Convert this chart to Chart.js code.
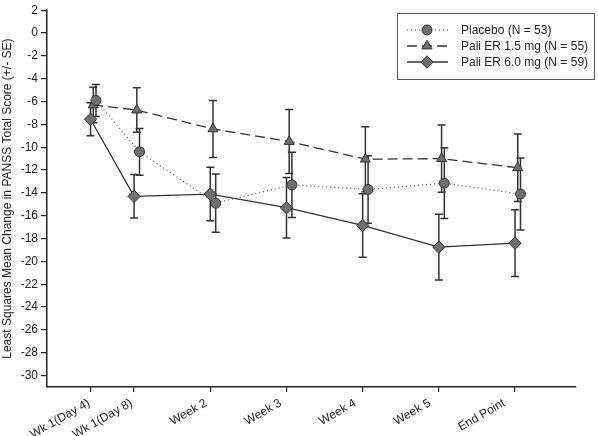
<!DOCTYPE html>
<html><head><meta charset="utf-8">
<script src="https://cdn.jsdelivr.net/npm/chart.js@4/dist/chart.umd.min.js"></script>
<style>html,body{margin:0;padding:0;background:#fff;}canvas{display:block;}</style>
</head><body>
<canvas id="c" width="598" height="436"></canvas>
<script>
// ---- data ----
const categories = ['Wk 1(Day 4)', 'Wk 1(Day 8)', 'Week 2', 'Week 3', 'Week 4', 'Week 5', 'End Point'];
const studyDays = [4, 8, 15, 22, 29, 36, 43];
const seriesNames = ['Placebo (N = 53)', 'Pali ER 1.5 mg (N = 55)', 'Pali ER 6.0 mg (N = 59)'];
const placeboMean = [-5.9, -10.4, -14.9, -13.3, -13.7, -13.15, -14.1];
const placeboSE   = [1.4, 2.05, 2.55, 2.85, 2.95, 3.1, 3.15];
const pali15Mean  = [-6.3, -6.75, -8.4, -9.5, -11.05, -11.0, -11.8];
const pali15SE    = [1.55, 1.95, 2.5, 2.8, 2.85, 2.95, 2.95];
const pali60Mean  = [-7.55, -14.3, -14.1, -15.3, -16.85, -18.75, -18.4];
const pali60SE    = [1.45, 1.9, 2.35, 2.65, 2.78, 2.87, 2.93];
const yTicks = [2, 0, -2, -4, -6, -8, -10, -12, -14, -16, -18, -20, -22, -24, -26, -28, -30];
const yTitle = 'Least Squares Mean Change in PANSS Total Score (+/- SE)';

// ---- styling ----
const FONT = "'Liberation Sans', Arial, sans-serif";
const INK = '#333333';
const FILL = '#6f6f6f';
const dodge = [0.5, 0.25, 0];   // horizontal offsets (days) used in the original to separate groups

function pts(means, k) {
  return means.map((v, i) => ({ x: studyDays[i] + dodge[k], y: v }));
}

const seSets = [placeboSE, pali15SE, pali60SE];

const datasets = [
  { label: seriesNames[0], data: pts(placeboMean, 0), borderColor: '#555', borderWidth: 1.2,
    borderDash: [1, 3], pointStyle: 'circle', pointRadius: 5, pointBackgroundColor: FILL,
    pointBorderColor: INK, pointBorderWidth: 1, tension: 0, order: 1 },
  { label: seriesNames[1], data: pts(pali15Mean, 1), borderColor: INK, borderWidth: 1.3,
    borderDash: [10, 5], pointStyle: 'triangle', pointRadius: 5.8, pointBackgroundColor: FILL,
    pointBorderColor: INK, pointBorderWidth: 1, tension: 0, order: 2 },
  { label: seriesNames[2], data: pts(pali60Mean, 2), borderColor: INK, borderWidth: 1.3,
    borderDash: [], pointStyle: 'rectRot', pointRadius: 6.2, pointBackgroundColor: FILL,
    pointBorderColor: INK, pointBorderWidth: 1, tension: 0, order: 3 }
];

const errorBars = {
  id: 'errorBars',
  beforeDatasetsDraw(chart) {
    const { ctx, scales: { x, y } } = chart;
    ctx.save();
    ctx.strokeStyle = INK;
    ctx.lineWidth = 1.5;
    ctx.setLineDash([]);
    chart.data.datasets.forEach((ds, k) => {
      ds.data.forEach((p, i) => {
        const px = x.getPixelForValue(p.x);
        const top = y.getPixelForValue(p.y + seSets[k][i]);
        const bot = y.getPixelForValue(p.y - seSets[k][i]);
        ctx.beginPath();
        ctx.moveTo(px, top); ctx.lineTo(px, bot);
        ctx.moveTo(px - 4, top); ctx.lineTo(px + 4, top);
        ctx.moveTo(px - 4, bot); ctx.lineTo(px + 4, bot);
        ctx.stroke();
      });
    });
    ctx.restore();
  }
};

const boxLegend = {
  id: 'boxLegend',
  afterDraw(chart) {
    const { ctx } = chart;
    const left = chart.width - 201, top = 13, w = 197, h = 66;
    ctx.save();
    ctx.strokeStyle = '#555';
    ctx.lineWidth = 1;
    ctx.strokeRect(left + 0.5, top + 0.5, w, h);
    chart.data.datasets.forEach((ds, k) => {
      const cy = top + 17 + k * 16;
      ctx.strokeStyle = ds.borderColor;
      ctx.lineWidth = ds.borderWidth;
      ctx.setLineDash(ds.borderDash);
      ctx.beginPath();
      ctx.moveTo(left + 10, cy); ctx.lineTo(left + 51, cy);
      ctx.stroke();
      ctx.setLineDash([]);
      ctx.fillStyle = FILL;
      ctx.strokeStyle = INK;
      ctx.lineWidth = 1;
      Chart.helpers.drawPoint(ctx, { pointStyle: ds.pointStyle, radius: ds.pointRadius, borderWidth: 1 }, left + 30, cy);
      ctx.fillStyle = '#222';
      ctx.font = '12px ' + FONT;
      ctx.textAlign = 'left';
      ctx.textBaseline = 'middle';
      ctx.fillText(ds.label, left + 64, cy + 1);
    });
    ctx.restore();
  }
};

Chart.defaults.font.family = FONT;
Chart.defaults.font.size = 12;
Chart.defaults.color = '#222';

new Chart(document.getElementById('c'), {
  type: 'line',
  data: { datasets },
  plugins: [errorBars, boxLegend],
  options: {
    responsive: false,
    animation: false,
    devicePixelRatio: 1,
    layout: { padding: { top: 4, right: 22, left: 0, bottom: 0 } },
    plugins: { legend: { display: false }, tooltip: { enabled: false } },
    scales: {
      x: {
        type: 'linear', min: 0, max: 48.6, weight: 0,
        afterBuildTicks: (axis) => { axis.ticks = studyDays.map(v => ({ value: v })); },
        afterFit: (axis) => { axis.height = 0; },
        ticks: { display: false },
        grid: { drawOnChartArea: false, drawTicks: true, tickLength: 5, color: '#222', lineWidth: 1.2 },
        border: { display: true, color: '#222', width: 1.5 }
      },
      xLabels: {
        type: 'linear', position: 'bottom', min: 0.06, max: 49.73, weight: 1,
        afterBuildTicks: (axis) => { axis.ticks = studyDays.map(v => ({ value: v })); },
        afterFit: (axis) => { axis.height = 49; },
        ticks: {
          autoSkip: false, minRotation: 30, maxRotation: 30, padding: 9, color: '#222',
          callback: (v) => categories[studyDays.indexOf(v)]
        },
        grid: { display: false, drawTicks: false },
        border: { display: false }
      },
      y: {
        type: 'linear', min: -31, max: 2,
        afterBuildTicks: (axis) => { axis.ticks = yTicks.map(v => ({ value: v })); },
        afterFit: (axis) => { axis.width = 47; },
        ticks: { padding: 3, color: '#222' },
        grid: { drawOnChartArea: false, drawTicks: true, tickLength: 6, color: '#222', lineWidth: 1.2 },
        border: { display: true, color: '#222', width: 1.5 },
        title: { display: true, text: yTitle, color: '#222', padding: { top: 0, bottom: 0 }, font: { size: 12 } }
      }
    }
  }
});
</script>
</body></html>
